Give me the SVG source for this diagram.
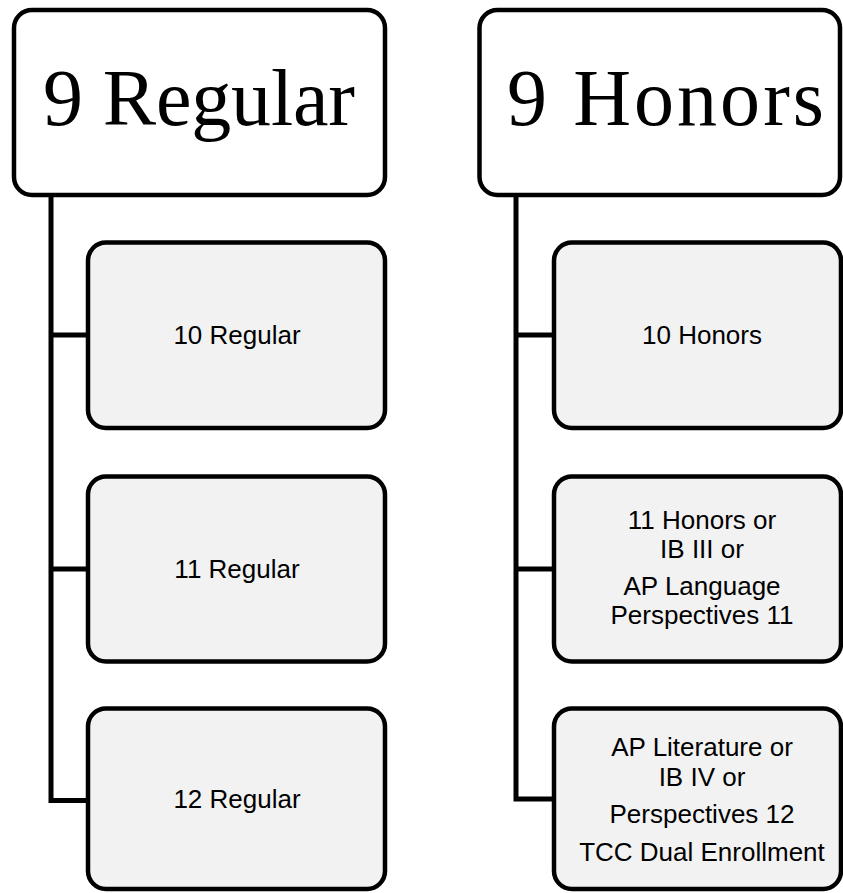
<svg xmlns="http://www.w3.org/2000/svg" width="843" height="893" viewBox="0 0 843 893">
<style>
.top{fill:#ffffff;stroke:#000;stroke-width:4.5}
.child{fill:#f2f2f2;stroke:#000;stroke-width:4.5}
.conn{fill:none;stroke:#000;stroke-width:5}
.tt{font-family:"Liberation Serif","Times New Roman",serif;font-size:80px;fill:#000}
.ct{font-family:"Liberation Sans",Arial,sans-serif;font-size:26px;fill:#000;text-anchor:middle}
</style>
<rect width="843" height="893" fill="#ffffff"/>
<g id="connectors">
<path class="conn" d="M51,195 V800.5 H88 M51,335 H88 M51,569 H88"/>
<path class="conn" d="M516,195 V799 H554 M516,335 H554 M516,569 H554"/>
</g>
<g id="node-9-regular">
<rect class="top" x="14" y="10" width="371" height="185" rx="18"/>
<text class="tt" x="43" y="125" textLength="312" lengthAdjust="spacing">9 Regular</text>
</g>
<g id="node-9-honors">
<rect class="top" x="479.5" y="10" width="360.5" height="185" rx="18"/>
<text class="tt" x="507" y="125" textLength="317" lengthAdjust="spacing">9 Honors</text>
</g>
<g id="node-10-regular">
<rect class="child" x="88" y="242.5" width="297" height="185.5" rx="18"/>
<text class="ct" x="237" y="344">10 Regular</text>
</g>
<g id="node-11-regular">
<rect class="child" x="88" y="476.5" width="297" height="185" rx="18"/>
<text class="ct" x="237" y="578">11 Regular</text>
</g>
<g id="node-12-regular">
<rect class="child" x="88" y="708.5" width="297" height="180.5" rx="18"/>
<text class="ct" x="237" y="808">12 Regular</text>
</g>
<g id="node-10-honors">
<rect class="child" x="554" y="242.5" width="287" height="185.5" rx="18"/>
<text class="ct" x="702" y="344">10 Honors</text>
</g>
<g id="node-11-honors">
<rect class="child" x="554" y="476.5" width="287" height="185" rx="18"/>
<text class="ct" x="702" y="528.5">11 Honors or</text>
<text class="ct" x="702" y="558">IB III or</text>
<text class="ct" x="702" y="594.5">AP Language</text>
<text class="ct" x="702" y="624">Perspectives 11</text>
</g>
<g id="node-12-honors">
<rect class="child" x="554" y="708.5" width="287" height="180.5" rx="18"/>
<text class="ct" x="702" y="756">AP Literature or</text>
<text class="ct" x="702" y="785.5">IB IV or</text>
<text class="ct" x="702" y="823">Perspectives 12</text>
<text class="ct" x="702" y="861">TCC Dual Enrollment</text>
</g>
</svg>
